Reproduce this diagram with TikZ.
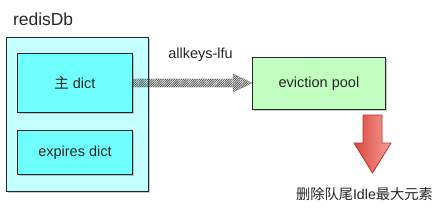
\documentclass[tikz,border=0pt]{standalone}
\usepackage{fontspec}
\setmainfont{Liberation Sans}
\newfontfamily\cjk{Noto Sans CJK SC}
\usetikzlibrary{shadows,patterns.meta,calc}
\definecolor{outerfill}{HTML}{C4FFFF}
\definecolor{innerfill}{HTML}{70FFFF}
\definecolor{poolfill}{HTML}{C0FFC0}
\definecolor{redA}{HTML}{D8473C}
\definecolor{redB}{HTML}{F5A09A}
\definecolor{redline}{HTML}{C0302A}
\tikzset{
  boxshadow/.style={drop shadow={shadow xshift=1.2pt,shadow yshift=-1.5pt,opacity=0.35,fill=black!60}},
  box/.style={draw=black!85,line width=0.9pt,boxshadow},
  lbl/.style={font=\fontsize{14.5}{16}\selectfont,text=black!85,inner sep=0pt},
}
\begin{document}
\begin{tikzpicture}[x=1pt,y=-1pt]
\useasboundingbox (0,0) rectangle (443,211);
\fill[white] (0,0) rectangle (443,211);
% outer redisDb box
\node[box,fill=outerfill,minimum width=142pt,minimum height=154pt,anchor=north west,inner sep=0pt] (db) at (6,37) {};
\node[lbl,font=\fontsize{17.4}{19}\selectfont,anchor=west] (dbl) at (13,19) {redisDb};
% inner boxes
\node[box,fill=innerfill,minimum width=115pt,minimum height=59pt,anchor=north west,inner sep=0pt] (main) at (17,53) {};
\node[lbl] (mainl) at (main.center) {{\cjk 主} dict};
\node[box,fill=innerfill,minimum width=115pt,minimum height=44pt,anchor=north west,inner sep=0pt] (exp) at (17,130) {};
\node[lbl] (expl) at (exp.center) {expires dict};
% eviction pool
\node[box,fill=poolfill,minimum width=133pt,minimum height=52pt,anchor=north west,inner sep=0pt] (pool) at (252,57) {};
\node[lbl] (pooll) at (pool.center) {eviction pool};
% hatched arrow
\coordinate (as) at (main.east |- 0,83);
\coordinate (at) at (pool.west |- 0,83);
\path[draw=black!55,line width=0.3pt,pattern={Lines[angle=45,distance=1.6pt,line width=0.7pt]},pattern color=black!75]
  ($(as)+(0,-4)$) -- ($(at)+(-19,-4)$) -- ($(at)+(-19,-9)$) -- (at) -- ($(at)+(-19,9)$) -- ($(at)+(-19,4)$) -- ($(as)+(0,4)$) -- cycle;
\node[lbl] (alg) at (200.5,55) {allkeys-lfu};
% red arrow
\coordinate (rs) at (372.5,115);
\shade[left color=redA,right color=redB,draw=redline,line width=0.8pt]
  ($(rs)+(-9.5,0)$) -- ($(rs)+(9.5,0)$) -- ($(rs)+(9.5,28)$) -- ($(rs)+(18.5,28)$) -- ($(rs)+(0,58)$) -- ($(rs)+(-18.5,28)$) -- ($(rs)+(-9.5,28)$) -- cycle;
\node[lbl,font=\fontsize{14.25}{16}\selectfont] (del) at (364.5,194) {{\cjk 删除队尾}Idle{\cjk 最大元素}};
\end{tikzpicture}
\end{document}
